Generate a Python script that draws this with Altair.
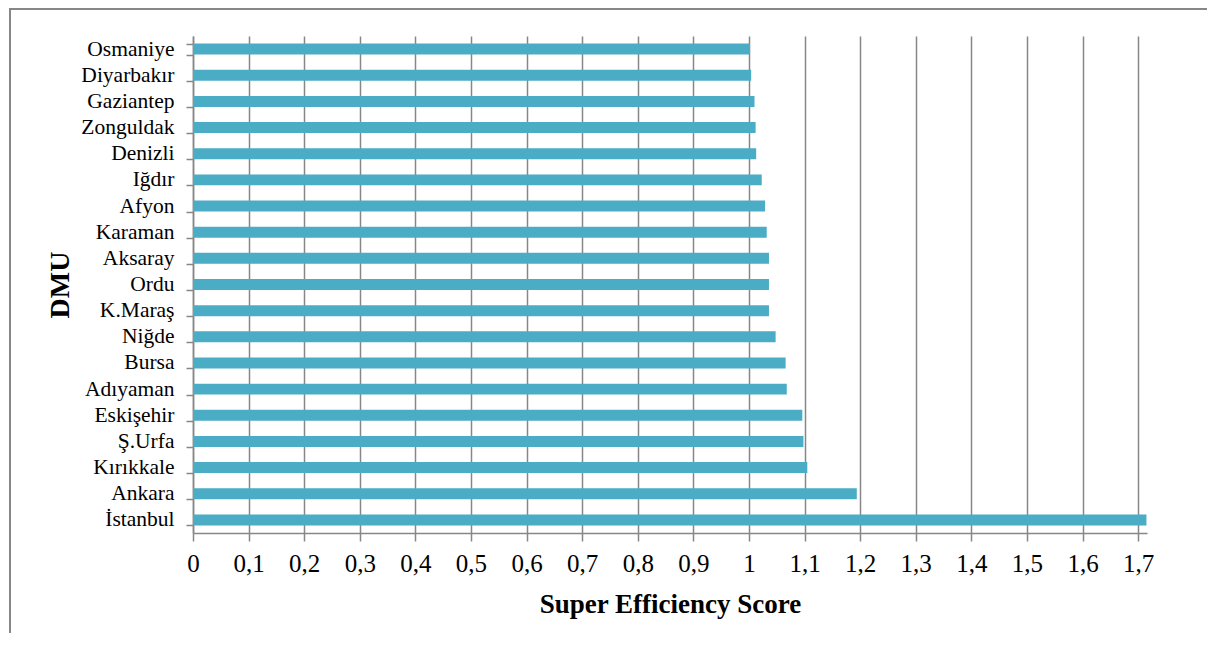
import altair as alt
import pandas as pd

names = ["Osmaniye", "Diyarbakır", "Gaziantep", "Zonguldak", "Denizli", "Iğdır",
         "Afyon", "Karaman", "Aksaray", "Ordu", "K.Maraş", "Niğde", "Bursa",
         "Adıyaman", "Eskişehir", "Ş.Urfa", "Kırıkkale", "Ankara", "İstanbul"]
scores = [1.002, 1.004, 1.010, 1.012, 1.013, 1.023, 1.029, 1.032, 1.036, 1.036,
          1.036, 1.048, 1.066, 1.068, 1.096, 1.098, 1.105, 1.194, 1.715]
tick_values = [round(i * 0.1, 1) for i in range(18)]

df = pd.DataFrame({"DMU": names, "score": scores})

FONT = "Liberation Serif"
GRAY = "#878787"

bars = alt.Chart(df).mark_bar(color="#4BACC6").encode(
    y=alt.Y("DMU:N", sort=names,
            scale=alt.Scale(paddingInner=0.58, paddingOuter=0.29),
            axis=alt.Axis(title="DMU", titleFont=FONT, titleFontSize=28,
                          titleFontWeight="bold", titleColor="black",
                          titleX=-125, titleBaseline="alphabetic",
                          labelFont=FONT, labelFontSize=21.5, labelColor="black",
                          labelPadding=12, tickSize=7, tickColor=GRAY,
                          tickWidth=1.5, domainColor=GRAY, domainWidth=1.5,
                          tickBand="extent", grid=False)),
    x=alt.X("score:Q",
            scale=alt.Scale(domain=[0, 1.716], nice=False, zero=True),
            axis=alt.Axis(title="Super Efficiency Score", titleFont=FONT,
                          titleFontSize=27, titleFontWeight="bold",
                          titleColor="black", titleY=79,
                          titleBaseline="alphabetic",
                          values=tick_values,
                          labelExpr="replace(format(datum.value, '.1~f'), '.', ',')",
                          labelFont=FONT, labelFontSize=25, labelColor="black",
                          labelPadding=10, tickSize=8, tickColor=GRAY,
                          tickWidth=1.5, domainColor=GRAY, domainWidth=1.5,
                          grid=True, gridColor=GRAY, gridWidth=1.5,
                          labelFlush=False, labelOverlap=False)),
)

frame = alt.Data(values=[{}])
left_border = alt.Chart(frame).mark_rule(color=GRAY, strokeWidth=2).encode(
    x=alt.value(-183), y=alt.value(-27), y2=alt.value(600))
top_border = alt.Chart(frame).mark_rule(color=GRAY, strokeWidth=2).encode(
    x=alt.value(-184), x2=alt.value(1020), y=alt.value(-27))

chart = alt.layer(bars, left_border, top_border).properties(
    width=954, height=497,
    autosize=alt.AutoSizeParams(type="none"),
    padding={"left": 185, "top": 28, "right": 60, "bottom": 100},
).configure_view(stroke=None)

chart.save("out.html", embed_options={"renderer": "svg", "actions": False})
